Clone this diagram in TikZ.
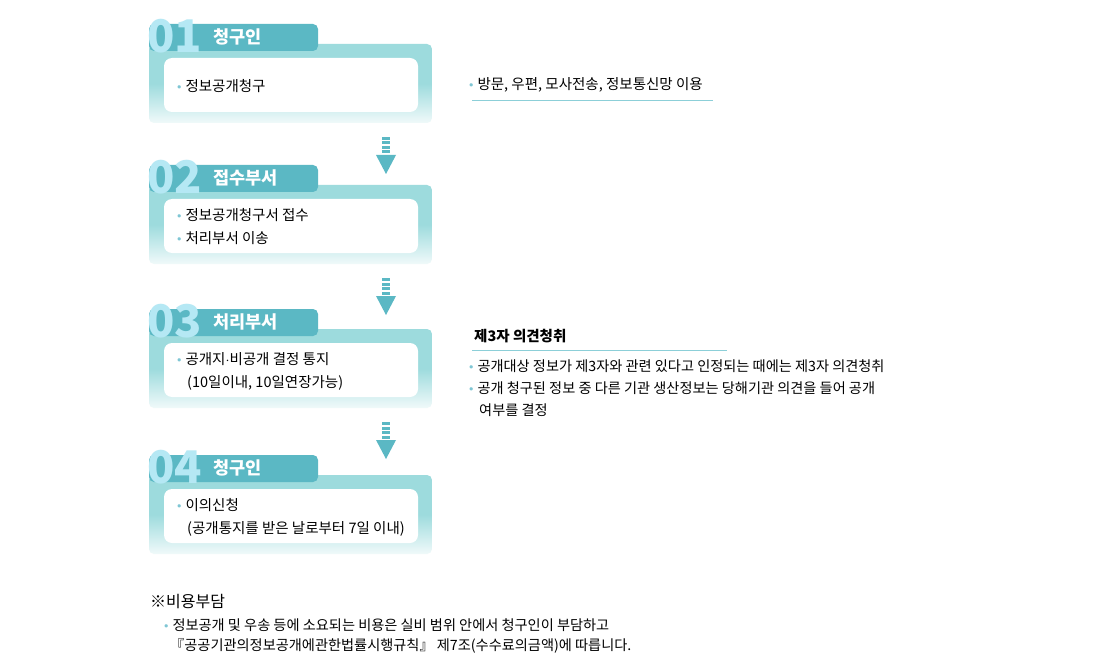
\documentclass[tikz,border=0pt]{standalone}
\usepackage{fontspec}
\setmainfont{Noto Sans CJK KR}
\usetikzlibrary{positioning,calc}
\definecolor{tabc}{HTML}{5BB8C4}
\definecolor{boxc}{HTML}{9DDBDD}
\definecolor{numc}{HTML}{B5E8F4}
\definecolor{dotc}{HTML}{7FC6D4}
\definecolor{linec}{HTML}{8CCFD8}
\newcommand{\dotb}{{\color{dotc}\raisebox{0.25ex}{\scalebox{0.6}{$\bullet$}}}\hspace{4pt}}
\begin{document}
\begin{tikzpicture}[x=1pt,y=-1pt]
  \tikzstyle{txt}=[anchor=west,inner sep=0,font=\fontsize{14.5}{23}\selectfont,align=left]
  \tikzstyle{ttl}=[anchor=west,inner sep=0,text=white,font=\fontsize{17.5}{18}\selectfont\bfseries]
  \tikzstyle{num}=[anchor=west,inner sep=0,text=numc,font=\fontsize{45}{45}\selectfont\bfseries]
  \useasboundingbox[fill=white] (0,0) rectangle (1100,663);
  % steps
  \foreach \dy/\n/\t/\body in {0/01/청구인/{\dotb 정보공개청구},
      141/02/접수부서/{\dotb 정보공개청구서 접수\\\dotb 처리부서 이송},
      285/03/처리부서/{\dotb 공개지$\cdot$비공개 결정 통지\\\hspace{10pt}(10일이내, 10일연장가능)},
      431/04/청구인/{\dotb 이의신청\\\hspace{10pt}(공개통지를 받은 날로부터 7일 이내)}}{
    \shade[top color=boxc,bottom color=boxc!15,middle color=boxc,rounded corners=5]
      (149,44+\dy) rectangle (432,123+\dy);
    \fill[tabc,rounded corners=5] (149,24+\dy) rectangle (318,51+\dy);
    \fill[white,rounded corners=8] (164,58+\dy) rectangle (418,112+\dy);
    \node[num] (n\n) at (147,36+\dy) {\n};
    \node[ttl] (t\n) at (213,37+\dy) {\t};
    \node[txt] (b\n) at (177,86+\dy) {\body};
  }
  % arrows
  \foreach \ay in {137,278,422}{
    \foreach \k in {0,1,2,3}
      \fill[tabc] (382,\ay+\k*4.5) rectangle (390,\ay+\k*4.5+3);
    \fill[tabc] (376,\ay+18) -- (396,\ay+18) -- (386,\ay+37) -- cycle;
  }
  % notes
  \node[txt] (via) at (469,85) {\dotb 방문, 우편, 모사전송, 정보통신망 이용};
  \draw[linec,thick] (472,100) -- (713,100);
  \node[txt,font=\fontsize{14.5}{16}\selectfont\bfseries] (third) at (474,336) {제3자 의견청취};
  \draw[linec,thick] (472,350) -- (727,350);
  \node[txt,anchor=north west,font=\fontsize{14.2}{22}\selectfont] (thirdb) at (469,359) {\dotb 공개대상 정보가 제3자와 관련 있다고 인정되는 때에는 제3자 의견청취\\
    \dotb 공개 청구된 정보 중 다른 기관 생산정보는 당해기관 의견을 들어 공개\\\hspace{10pt}여부를 결정};
  \node[txt,font=\fontsize{16}{16}\selectfont] (cost) at (150,602) {※비용부담};
  \node[txt,anchor=north west,font=\fontsize{14.2}{20}\selectfont] (costb) at (164,618) {\dotb 정보공개 및 우송 등에 소요되는 비용은 실비 범위 안에서 청구인이 부담하고\\
    \hspace{6pt}『공공기관의정보공개에관한법률시행규칙』 제7조(수수료의금액)에 따릅니다.};
\end{tikzpicture}
\end{document}
